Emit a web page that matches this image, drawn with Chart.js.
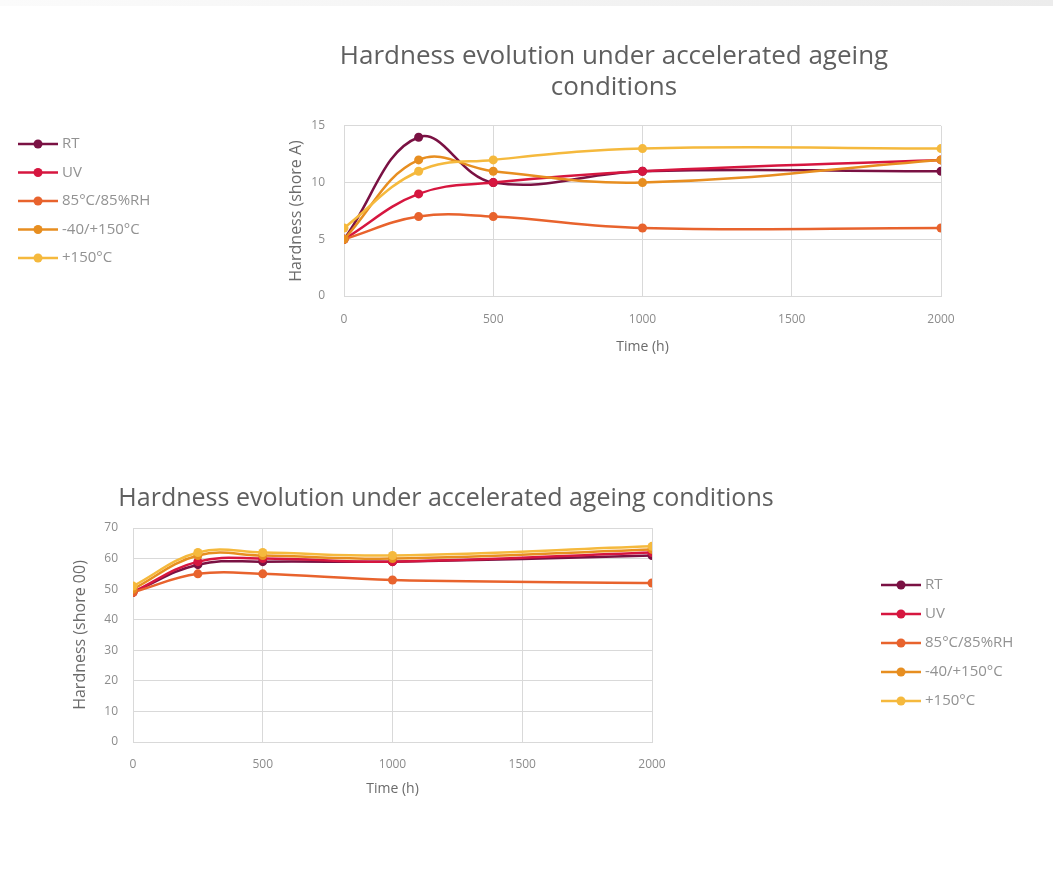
<!DOCTYPE html>
<html>
<head>
<meta charset="utf-8">
<title>Hardness evolution under accelerated ageing conditions</title>
<script src="https://cdn.jsdelivr.net/npm/chart.js@4"></script>
<style>
    body { margin: 0; background: #fff; width: 1053px; height: 883px; overflow: hidden; position: relative; }
    #topBand { position: absolute; left: 0; top: 0; width: 1053px; height: 6px; background: linear-gradient(to right, #fbfbfb, #ececec); }
    .chartWrap { position: absolute; left: 0; width: 1053px; height: 400px; }
    #wrapShoreA { top: 0; }
    #wrapShore00 { top: 440px; }
</style>
</head>
<body>
<div id="topBand"></div>
<div class="chartWrap" id="wrapShoreA"><canvas id="chartShoreA"></canvas></div>
<div class="chartWrap" id="wrapShore00"><canvas id="chartShore00"></canvas></div>

<script>
// ageing time points (h)
var hours = [0, 250, 500, 1000, 2000];
var xTicks = [0, 500, 1000, 1500, 2000];

var seriesNames = ['RT', 'UV', '85°C/85%RH', '-40/+150°C', '+150°C'];
var seriesColors = ['#7a1143', '#d6163f', '#e8632d', '#e78e20', '#f5b93d'];

// hardness, shore A
var shoreA_RT     = [5, 14, 10, 11, 11];
var shoreA_UV     = [5, 9, 10, 11, 12];
var shoreA_85RH   = [5, 7, 7, 6, 6];
var shoreA_Cycle  = [5, 12, 11, 10, 12];
var shoreA_150    = [6, 11, 12, 13, 13];
var shoreATicks   = [0, 5, 10, 15];

// hardness, shore 00
var shore00_RT    = [49, 58, 59, 59, 61];
var shore00_UV    = [49, 59, 60, 59, 62];
var shore00_85RH  = [49, 55, 55, 53, 52];
var shore00_Cycle = [50, 61, 61, 60, 63];
var shore00_150   = [51, 62, 62, 61, 64];
var shore00Ticks  = [0, 10, 20, 30, 40, 50, 60, 70];

Chart.defaults.font.family = "'Open Sans', sans-serif";

var gridColor = '#d9d9d9';
var tickColor = '#8c8c8c';
var textColor = '#6b6b6b';

// legend drawn as Excel does it: short line with a marker, label to the right
var sideLegend = {
    id: 'sideLegend',
    afterDraw: function(chart, args, opts) {
        var ctx = chart.ctx;
        ctx.save();
        ctx.font = '15px "Open Sans", sans-serif';
        ctx.textBaseline = 'middle';
        chart.data.datasets.forEach(function(ds, i) {
            var y = opts.y + i * opts.step;
            ctx.strokeStyle = ds.borderColor;
            ctx.lineWidth = 2.5;
            ctx.beginPath();
            ctx.moveTo(opts.x, y);
            ctx.lineTo(opts.x + 40, y);
            ctx.stroke();
            ctx.fillStyle = ds.borderColor;
            ctx.beginPath();
            ctx.arc(opts.x + 20, y, 4.5, 0, Math.PI * 2);
            ctx.fill();
            ctx.fillStyle = '#929292';
            ctx.fillText(ds.label, opts.x + 44, y);
        });
        ctx.restore();
    }
};

function buildDatasets(valueLists) {
    return valueLists.map(function(vals, i) {
        return {
            label: seriesNames[i],
            data: hours.map(function(h, j) { return { x: h, y: vals[j] }; }),
            borderColor: seriesColors[i],
            backgroundColor: seriesColors[i],
            borderWidth: 2.5,
            pointRadius: 4.5,
            pointBorderWidth: 0,
            tension: 0.4,
            fill: false,
            order: valueLists.length - i   // later series on top
        };
    });
}

function fixedTicks(list) {
    return function(scale) {
        scale.ticks = list.map(function(v) { return { value: v }; });
    };
}

function plainLabel(v) { return String(v); }

function xScale(height, tickPad) {
    return {
        type: 'linear', min: 0, max: 2000,
        afterBuildTicks: fixedTicks(xTicks),
        afterFit: function(s) { s.height = height; },
        grid: { color: gridColor, drawTicks: false },
        border: { color: gridColor },
        ticks: { color: tickColor, font: { size: 12 }, padding: tickPad, callback: plainLabel },
        title: { display: true, text: 'Time (h)', color: textColor, font: { size: 14 }, padding: { top: 0, bottom: 4 } }
    };
}

function yScale(max, tickList, title, width, tickPad, titlePad) {
    return {
        type: 'linear', min: 0, max: max,
        afterBuildTicks: fixedTicks(tickList),
        afterFit: function(s) { s.width = width; },
        grid: { color: gridColor, drawTicks: false },
        border: { color: gridColor },
        ticks: { color: tickColor, font: { size: 12 }, padding: tickPad, callback: plainLabel },
        title: { display: true, text: title, color: textColor, font: { size: 16 }, padding: { top: titlePad, bottom: 0 } }
    };
}

function drawShoreAChart() {
    var ctx = document.getElementById('chartShoreA');
    new Chart(ctx, {
        type: 'line',
        data: { datasets: buildDatasets([shoreA_RT, shoreA_UV, shoreA_85RH, shoreA_Cycle, shoreA_150]) },
        plugins: [sideLegend],
        options: {
            responsive: true,
            maintainAspectRatio: false,
            animation: false,
            layout: { padding: { left: 287, right: 112, top: 0, bottom: 41 } },
            plugins: {
                legend: { display: false },
                tooltip: { enabled: false },
                title: {
                    display: true,
                    text: ['Hardness evolution under accelerated ageing', 'conditions'],
                    color: '#5f5f5f',
                    font: { size: 26, weight: 'normal', lineHeight: 1.19 },
                    padding: { top: 41.5, bottom: 22.5 }
                },
                sideLegend: { x: 18, y: 144, step: 28.5 }
            },
            scales: {
                x: xScale(63, 16),
                y: yScale(15, shoreATicks, 'Hardness (shore A)', 57, 19, 0)
            }
        }
    });
}

function drawShore00Chart() {
    var ctx = document.getElementById('chartShore00');
    new Chart(ctx, {
        type: 'line',
        data: { datasets: buildDatasets([shore00_RT, shore00_UV, shore00_85RH, shore00_Cycle, shore00_150]) },
        plugins: [sideLegend],
        options: {
            responsive: true,
            maintainAspectRatio: false,
            animation: false,
            layout: { padding: { left: 60, right: 221, top: 0, bottom: 39 } },
            plugins: {
                legend: { display: false },
                tooltip: { enabled: false },
                title: {
                    display: true,
                    text: 'Hardness evolution under accelerated ageing conditions',
                    color: '#5f5f5f',
                    font: { size: 25, weight: 'normal', lineHeight: 1.2 },
                    padding: { top: 44, bottom: 14 }
                },
                sideLegend: { x: 881, y: 145, step: 29 }
            },
            scales: {
                x: xScale(59, 15),
                y: yScale(70, shore00Ticks, 'Hardness (shore 00)', 73, 15, 11),
                // empty box on the right so the title centres over the whole chart
                spacer: {
                    type: 'linear', position: 'right', display: true,
                    afterFit: function(s) { s.width = 180; },
                    grid: { display: false }, border: { display: false }, ticks: { display: false }
                }
            }
        }
    });
}

drawShoreAChart();
drawShore00Chart();
</script>
</body>
</html>
